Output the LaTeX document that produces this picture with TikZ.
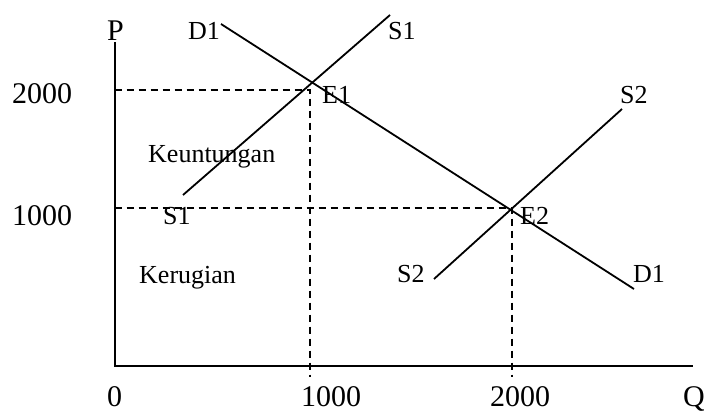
\documentclass[tikz,border=0pt]{standalone}
\usepackage{fontspec}
\setmainfont{Liberation Serif}
\begin{document}
\begin{tikzpicture}[x=1pt,y=-1pt,
  lbl/.style={inner sep=0pt,anchor=base west,font=\fontsize{26}{30}\selectfont},
  num/.style={inner sep=0pt,anchor=base west,font=\fontsize{30}{34}\selectfont},
  curve/.style={line width=1.8pt},
  axisline/.style={line width=2pt},
  guide/.style={line width=1.8pt,dash pattern=on 7pt off 5pt}]
\useasboundingbox (0,0) rectangle (704,412);
% axes
\coordinate (ytop) at (114.5,42);
\coordinate (orig) at (114.5,366);
\coordinate (xend) at (693,366);
\draw[axisline] (ytop) -- (orig) -- (xend);
% guides
\coordinate (p2) at (114.5,90);
\coordinate (e1) at (310,90);
\coordinate (q1) at (310,377);
\coordinate (p1) at (114.5,208);
\coordinate (e2) at (512,208);
\coordinate (q2) at (512,377);
\draw[guide] (p2) -- (e1) -- (q1);
\draw[guide] (p1) -- (e2) -- (q2);
% curves
\coordinate (d1a) at (221,24);
\coordinate (d1b) at (634,289);
\coordinate (s1a) at (183,195);
\coordinate (s1b) at (390,15);
\coordinate (s2a) at (434,279);
\coordinate (s2b) at (622,109);
\draw[curve] (d1a) -- (d1b);
\draw[curve] (s1a) -- (s1b);
\draw[curve] (s2a) -- (s2b);
% labels
\node[num] (P) at (107,41) {P};
\node[num] (y2000) at (12,103) {2000};
\node[num] (y1000) at (12,225) {1000};
\node[num,anchor=base] (x0) at (114.5,406) {0};
\node[num] (x1000) at (301,406) {1000};
\node[num] (x2000) at (490,406) {2000};
\node[num] (Q) at (683,406) {Q};
\node[lbl] (D1t) at (188,40) {D1};
\node[lbl] (S1t) at (388,40) {S1};
\node[lbl] (E1) at (322,103) {E1};
\node[lbl] (keu) at (148,162) {Keuntungan};
\node[lbl] (S1b) at (163,224) {S1};
\node[lbl] (ker) at (139,283) {Kerugian};
\node[lbl] (S2t) at (620,103) {S2};
\node[lbl] (E2) at (520,224) {E2};
\node[lbl] (S2b) at (397,282) {S2};
\node[lbl] (D1b) at (633,282) {D1};
\end{tikzpicture}
\end{document}
